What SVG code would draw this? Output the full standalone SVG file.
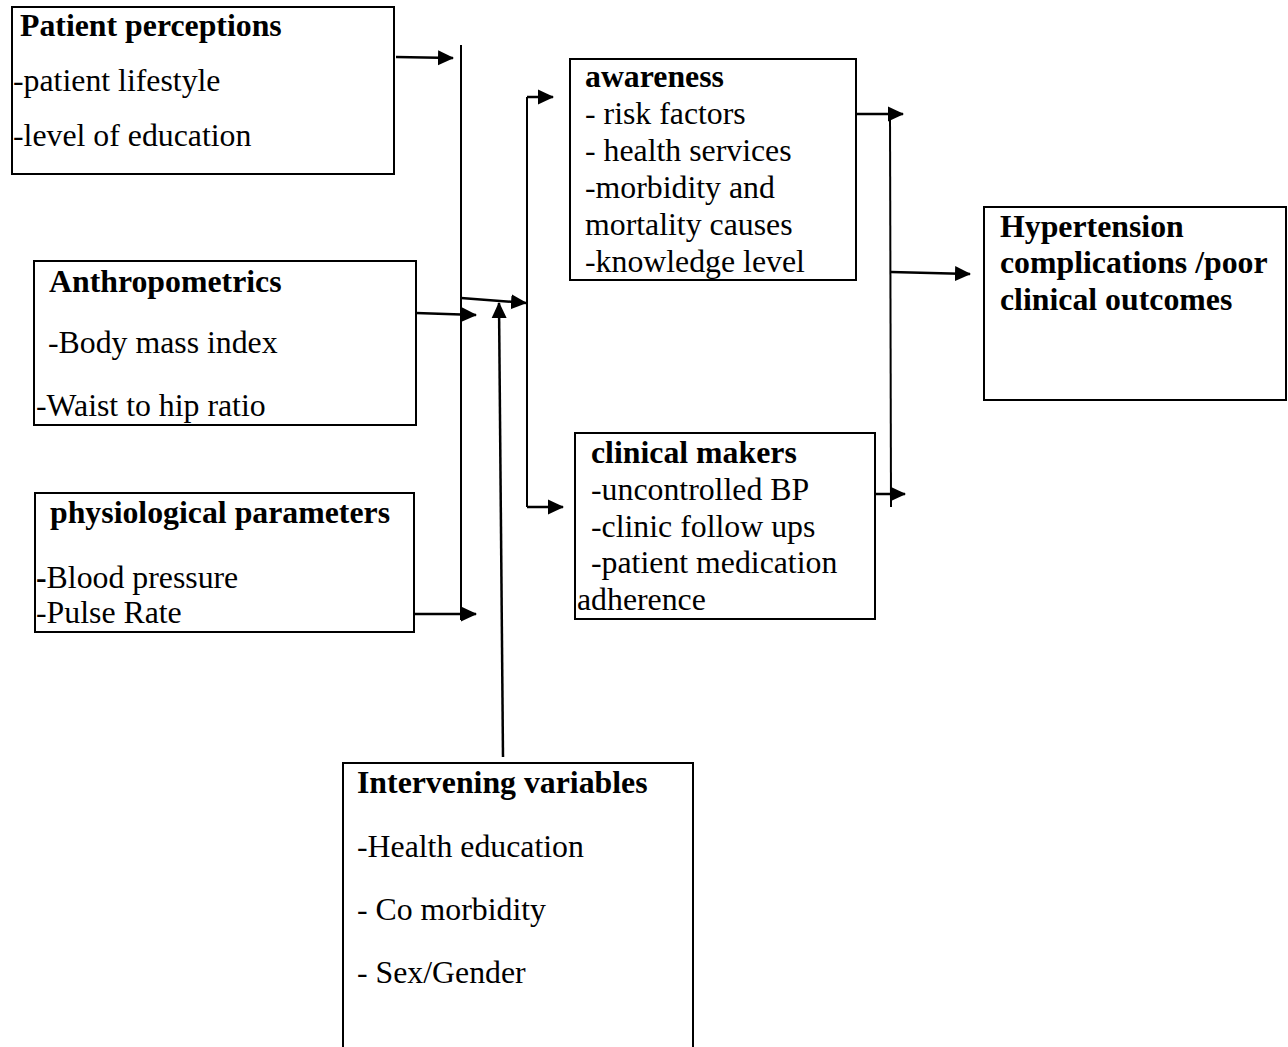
<svg xmlns="http://www.w3.org/2000/svg" width="1288" height="1047" viewBox="0 0 1288 1047">
<style>
.box{fill:#fff;stroke:#000;stroke-width:2}
text{font-family:"Liberation Serif","Times New Roman",serif;font-size:31.8px;fill:#000}
.b{font-weight:bold}
.ln{stroke:#000;stroke-width:2;fill:none}
.ar{stroke:#000;stroke-width:2.5;fill:none;marker-end:url(#ah)}
</style>
<defs>
<marker id="ah" viewBox="0 0 16 16" refX="15" refY="8" markerWidth="16" markerHeight="16" markerUnits="userSpaceOnUse" orient="auto">
<path d="M0,0.5 L16,8 L0,15.5 Z" fill="#000"/>
</marker>
</defs>
<rect width="1288" height="1047" fill="#fff"/>
<g id="connectors">
<line class="ln" x1="461" y1="45" x2="461" y2="620"/>
<line class="ln" x1="527" y1="97" x2="527" y2="507"/>
<line class="ln" x1="890" y1="114" x2="891" y2="507"/>
<line class="ar" x1="396" y1="57" x2="453" y2="58"/>
<line class="ar" x1="416" y1="313" x2="476" y2="315"/>
<line class="ar" x1="414" y1="614" x2="476" y2="614"/>
<line class="ar" x1="461" y1="298" x2="526" y2="303"/>
<line class="ar" x1="527" y1="97" x2="553" y2="97"/>
<line class="ar" x1="527" y1="507" x2="563" y2="507"/>
<line class="ar" x1="503" y1="757" x2="499" y2="303"/>
<line class="ar" x1="852" y1="114" x2="903" y2="114"/>
<line class="ar" x1="891" y1="272" x2="970" y2="274"/>
<line class="ar" x1="876" y1="494" x2="905" y2="494"/>
</g>
<g id="patient-perceptions">
<rect class="box" x="12" y="7" width="382" height="167"/>
<text class="b" x="20" y="36">Patient perceptions</text>
<text x="13" y="91">-patient lifestyle</text>
<text x="13" y="146">-level of education</text>
</g>
<g id="anthropometrics">
<rect class="box" x="34" y="261" width="382" height="164"/>
<text class="b" x="49" y="292">Anthropometrics</text>
<text x="48" y="353">-Body mass index</text>
<text x="36" y="416">-Waist to hip ratio</text>
</g>
<g id="physiological-parameters">
<rect class="box" x="35" y="493" width="379" height="139"/>
<text class="b" x="50" y="523">physiological parameters</text>
<text x="36" y="588"><tspan class="b">-</tspan>Blood pressure</text>
<text x="36" y="623">-Pulse Rate</text>
</g>
<g id="awareness">
<rect class="box" x="570" y="59" width="286" height="221"/>
<text class="b" x="585" y="87">awareness</text>
<text x="585" y="124">- risk factors</text>
<text x="585" y="161">- health services</text>
<text x="585" y="198">-morbidity and</text>
<text x="585" y="235">mortality causes</text>
<text x="585" y="272">-knowledge level</text>
</g>
<g id="clinical-makers">
<rect class="box" x="575" y="433" width="300" height="186"/>
<text class="b" x="591" y="463">clinical makers</text>
<text x="591" y="500">-uncontrolled BP</text>
<text x="591" y="537">-clinic follow ups</text>
<text x="591" y="573">-patient medication</text>
<text x="577" y="610">adherence</text>
</g>
<g id="hypertension-outcomes">
<rect class="box" x="984" y="207" width="302" height="193"/>
<text class="b" x="1000" y="237">Hypertension</text>
<text class="b" x="1000" y="273">complications /poor</text>
<text class="b" x="1000" y="310">clinical outcomes</text>
</g>
<g id="intervening-variables">
<rect class="box" x="343" y="763" width="350" height="300"/>
<text class="b" x="357" y="793">Intervening variables</text>
<text x="357" y="857">-Health education</text>
<text x="357" y="920">- Co morbidity</text>
<text x="357" y="983">- Sex/Gender</text>
</g>
</svg>
